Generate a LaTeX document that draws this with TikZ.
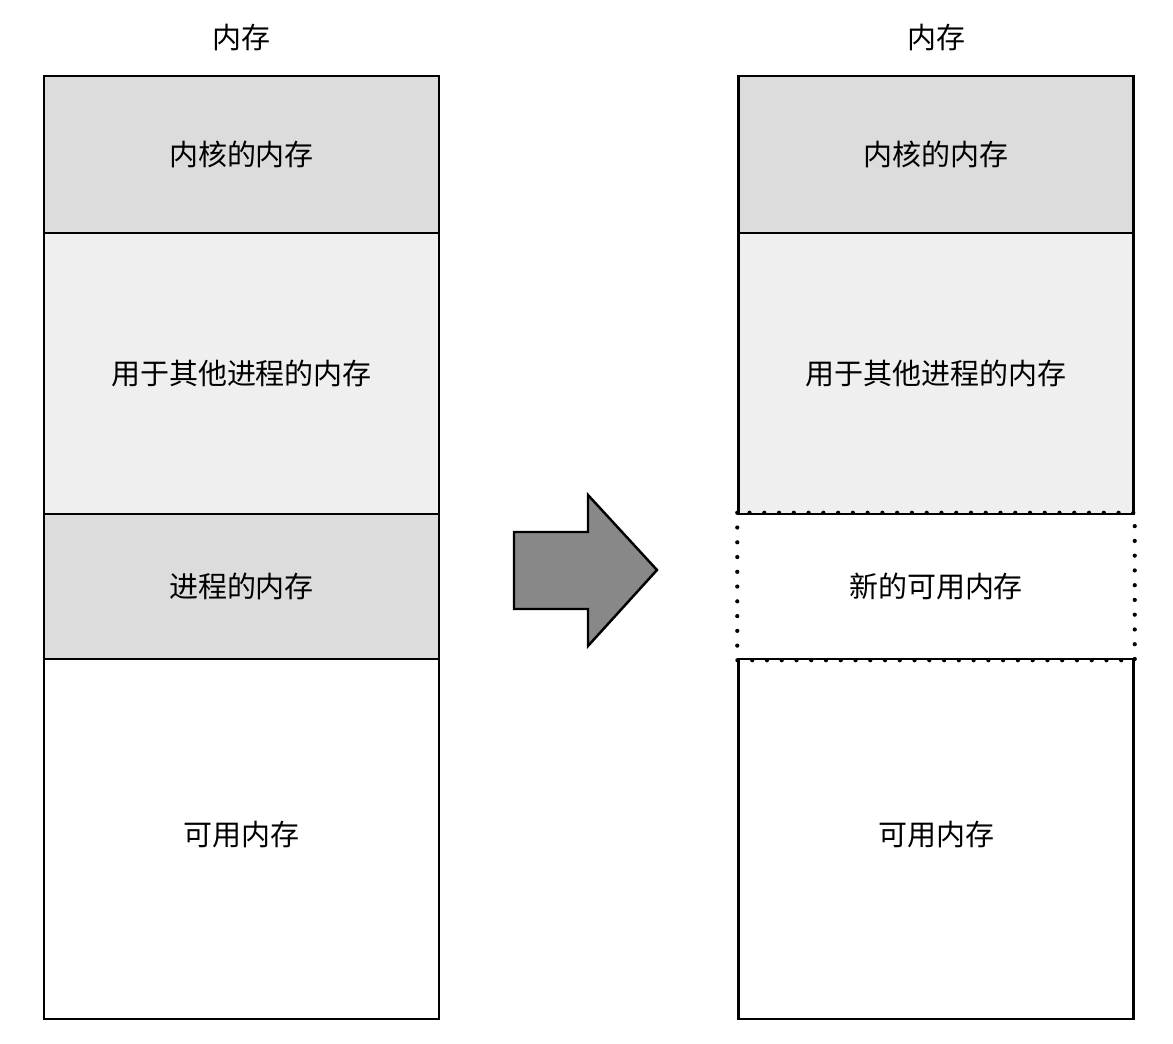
\documentclass[tikz,border=0pt]{standalone}
\usepackage{fontspec}
\setmainfont{Noto Sans CJK SC}
\usetikzlibrary{positioning}

\definecolor{kernelgray}{HTML}{DCDCDC}
\definecolor{othergray}{HTML}{EFEFEF}
\definecolor{arrowgray}{HTML}{888888}

\tikzset{
  memblock/.style={draw, rectangle, line width=1.4pt, inner sep=0pt,
    minimum width=7.9cm, font=\fontsize{16.5}{20}\selectfont},
  memtitle/.style={font=\fontsize{16.5}{20}\selectfont},
  freedblock/.style={memblock, draw=none},
  dotline/.style={line width=2.4pt, line cap=round, dash pattern=on 0pt off 8.4pt}
}

\begin{document}
\begin{tikzpicture}
    \useasboundingbox (0,0) rectangle (23.46,-20.88);
    % before
    \node[memtitle] (lt) at (4.83,-0.76) {内存};
    \node[memblock, fill=kernelgray, minimum height=3.14cm] (lk) at (4.83,-3.09) {内核的内存};
    \node[memblock, fill=othergray, minimum height=5.62cm] (lo) at (4.83,-7.47) {用于其他进程的内存};
    \node[memblock, fill=kernelgray, minimum height=2.90cm] (lp) at (4.83,-11.73) {进程的内存};
    \node[memblock, minimum height=7.20cm, text depth=0.24cm] (lf) at (4.83,-16.78) {可用内存};
    % after
    \node[memtitle] (rt) at (18.72,-0.76) {内存};
    \node[memblock, fill=kernelgray, minimum height=3.14cm] (rk) at (18.72,-3.09) {内核的内存};
    \node[memblock, fill=othergray, minimum height=5.62cm] (ro) at (18.72,-7.47) {用于其他进程的内存};
    \node[freedblock, minimum height=2.90cm] (rn) at (18.72,-11.73) {新的可用内存};
    \node[memblock, minimum height=7.20cm, text depth=0.24cm] (rf) at (18.72,-16.78) {可用内存};
    \draw[dotline] (rn.north west) rectangle (rn.south east);
    % arrow
    \draw[line width=1.4pt, fill=arrowgray, line join=miter]
      (10.28,-10.64) -- (11.76,-10.64) -- (11.76,-9.90) -- (13.14,-11.40)
      -- (11.76,-12.92) -- (11.76,-12.18) -- (10.28,-12.18) -- cycle;
  \end{tikzpicture}
\end{document}
